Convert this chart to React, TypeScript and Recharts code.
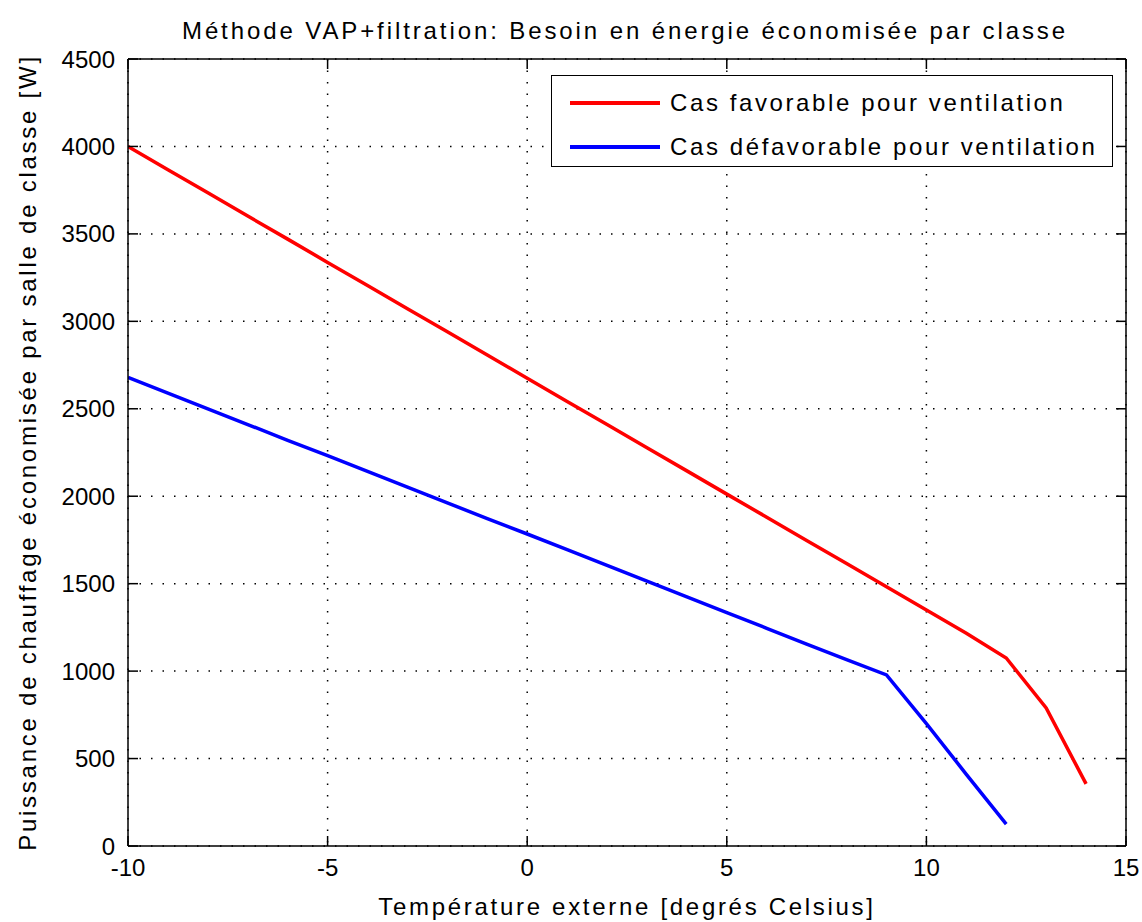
import { LineChart, Line, XAxis, YAxis, CartesianGrid, Legend } from 'recharts'

const temperatures = [-10, -9, -8, -7, -6, -5, -4, -3, -2, -1, 0, 1, 2, 3, 4, 5, 6, 7, 8, 9, 10, 11, 12, 13, 14]
const favorable = [4000, 3867, 3735, 3602, 3470, 3337, 3205, 3072, 2940, 2807, 2675, 2542, 2410, 2277, 2145, 2012, 1880, 1747, 1615, 1482, 1350, 1217, 1075, 790, 355]
const defavorable = [2680, 2590, 2500, 2410, 2320, 2232, 2142, 2052, 1962, 1872, 1784, 1694, 1604, 1514, 1424, 1335, 1245, 1155, 1065, 978, 700, 410, 125, null, null]
const xTicks = [-10, -5, 0, 5, 10, 15]
const yTicks = [0, 500, 1000, 1500, 2000, 2500, 3000, 3500, 4000, 4500]
const seriesOrder = ['fav', 'defav']

const data = temperatures.map((t, i) => ({ t, fav: favorable[i], defav: defavorable[i] }))

const FONT = '"Liberation Sans", Arial, sans-serif'

function NoTick() {
  return null
}

function MatlabLegend({ payload }: any) {
  if (!payload?.length) return null
  const items = seriesOrder.map(k => payload.find((p: any) => p.dataKey === k)).filter(Boolean)
  return (
    <div style={{ border: '1.5px solid #000', background: '#fff', width: 562, height: 92, boxSizing: 'border-box', position: 'relative', fontFamily: FONT }}>
      {items.map((p: any, i: number) => (
        <div key={p.value} style={{ position: 'absolute', left: 18, top: 9 + i * 44, display: 'flex', alignItems: 'center', height: 36 }}>
          <div style={{ width: 90, height: 4, background: p.color }} />
          <span style={{ marginLeft: 10, fontSize: 24, letterSpacing: 2.6, color: '#000', whiteSpace: 'nowrap' }}>{p.value}</span>
        </div>
      ))}
    </div>
  )
}

export default function App() {
  const mirrorTick = { stroke: '#000', strokeWidth: 1.5 }
  return (
    <div style={{ position: 'absolute', left: 0, top: 0, width: 1142, height: 922, background: '#fff', fontFamily: FONT }}>
      <div style={{ position: 'absolute', left: 0, top: 17, width: 1250, textAlign: 'center', fontSize: 24, letterSpacing: 2.9, color: '#000', whiteSpace: 'nowrap' }}>
        Méthode VAP+filtration: Besoin en énergie économisée par classe
      </div>
      <LineChart width={1142} height={922} data={data} margin={{ top: 59, right: 16, left: 0, bottom: 0 }}>
        <CartesianGrid xAxisId="b" yAxisId="l" stroke="#000" strokeWidth={1.5} strokeDasharray="1.5 10" fill="none" />
        <XAxis
          xAxisId="b"
          dataKey="t"
          type="number"
          domain={[-10, 15]}
          ticks={xTicks}
          interval={0}
          allowDataOverflow
          height={76}
          tickSize={0}
          tickMargin={13}
          tickLine={false}
          axisLine={{ stroke: '#000', strokeWidth: 1.5 }}
          tick={{ fill: '#000', fontSize: 24, fontFamily: FONT }}
          label={{ value: 'Température externe [degrés Celsius]', position: 'insideBottom', offset: 7, fill: '#000', fontSize: 24, fontFamily: FONT, letterSpacing: 2.7 }}
        />
        <XAxis xAxisId="bm" dataKey="t" type="number" domain={[-10, 15]} ticks={xTicks} interval={0} allowDataOverflow mirror tick={<NoTick />} tickSize={10} tickLine={mirrorTick} axisLine={false} />
        <XAxis xAxisId="tm" dataKey="t" type="number" orientation="top" domain={[-10, 15]} ticks={xTicks} interval={0} allowDataOverflow mirror tick={<NoTick />} tickSize={10} tickLine={mirrorTick} axisLine={{ stroke: '#000', strokeWidth: 1.5 }} />
        <YAxis
          yAxisId="l"
          type="number"
          domain={[0, 4500]}
          ticks={yTicks}
          interval={0}
          allowDataOverflow
          width={128}
          tickSize={0}
          tickMargin={13}
          tickLine={false}
          axisLine={{ stroke: '#000', strokeWidth: 1.5 }}
          tick={{ fill: '#000', fontSize: 24, fontFamily: FONT }}
          label={{ value: 'Puissance de chauffage économisée par salle de classe [W]', angle: -90, position: 'insideLeft', offset: 27, fill: '#000', fontSize: 24, fontFamily: FONT, letterSpacing: 2.75, style: { textAnchor: 'middle' } }}
        />
        <YAxis yAxisId="lm" type="number" domain={[0, 4500]} ticks={yTicks} interval={0} allowDataOverflow mirror tick={<NoTick />} tickSize={10} tickLine={mirrorTick} axisLine={false} />
        <YAxis yAxisId="rm" type="number" orientation="right" domain={[0, 4500]} ticks={yTicks} interval={0} allowDataOverflow mirror tick={<NoTick />} tickSize={10} tickLine={mirrorTick} axisLine={{ stroke: '#000', strokeWidth: 1.5 }} />
        <Legend verticalAlign="middle" align="center" layout="horizontal" content={<MatlabLegend />} wrapperStyle={{ position: 'absolute', left: 551, top: 75, width: 562, height: 92 }} />
        <Line xAxisId="b" yAxisId="l" type="linear" dataKey="fav" name="Cas favorable pour ventilation" stroke="#ff0000" strokeWidth={3.5} dot={false} isAnimationActive={false} />
        <Line xAxisId="b" yAxisId="l" type="linear" dataKey="defav" name="Cas défavorable pour ventilation" stroke="#0000ff" strokeWidth={3.5} dot={false} isAnimationActive={false} />
      </LineChart>
    </div>
  )
}
